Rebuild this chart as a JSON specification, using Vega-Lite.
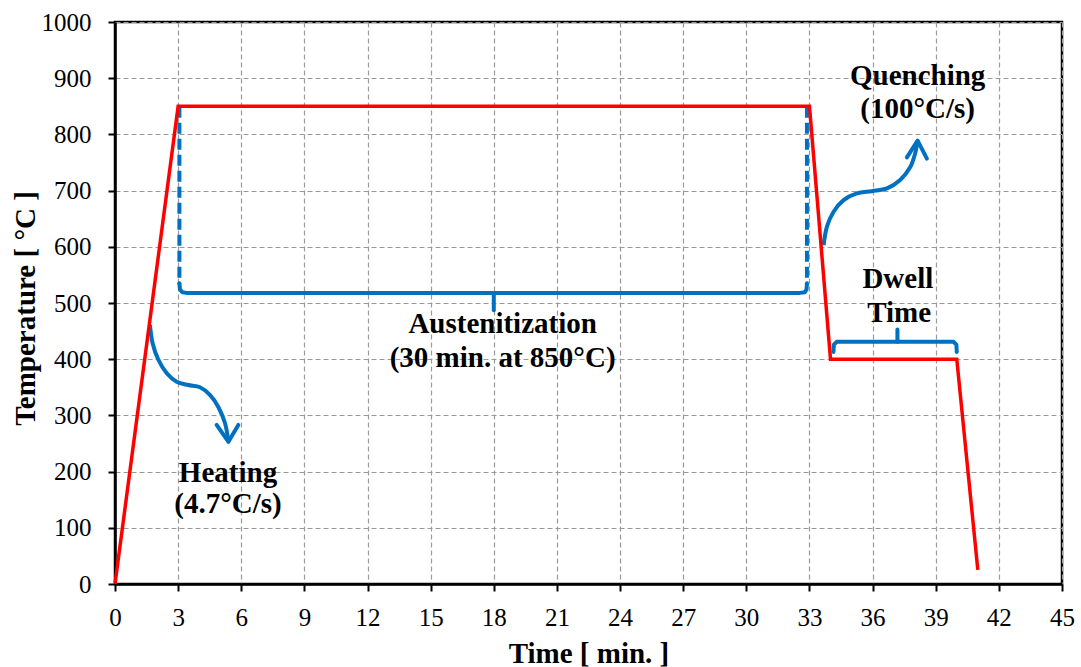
{
  "$schema": "https://vega.github.io/schema/vega-lite/v6.json",
  "width": 947,
  "height": 562,
  "autosize": {"type": "none"},
  "padding": {"left": 115, "top": 22, "right": 19, "bottom": 83},
  "background": "white",
  "config": {
    "font": "Liberation Serif",
    "view": {"stroke": "black", "strokeWidth": 2.5},
    "axis": {
      "domainColor": "black",
      "domainWidth": 2.5,
      "tickColor": "black",
      "tickWidth": 2,
      "tickSize": 7,
      "labelFont": "Liberation Serif",
      "labelFontSize": 25,
      "labelColor": "black",
      "titleFont": "Liberation Serif",
      "titleFontWeight": "bold",
      "titleFontSize": 29,
      "titleColor": "black",
      "gridColor": "#9a9a9a",
      "gridDash": [5, 3],
      "gridWidth": 1.2
    }
  },
  "datasets": {
    "lines": [
      {"part": "profile", "series": "profile", "ord": 1, "t": 0, "temp": 0},
      {"part": "profile", "series": "profile", "ord": 2, "t": 3, "temp": 850},
      {"part": "profile", "series": "profile", "ord": 3, "t": 33, "temp": 850},
      {"part": "profile", "series": "profile", "ord": 4, "t": 34, "temp": 400},
      {"part": "profile", "series": "profile", "ord": 5, "t": 40, "temp": 400},
      {"part": "profile", "series": "profile", "ord": 6, "t": 41, "temp": 25},

      {"part": "guide", "series": "guideL", "ord": 1, "t": 3.06, "temp": 849},
      {"part": "guide", "series": "guideL", "ord": 2, "t": 3.06, "temp": 533},
      {"part": "guide", "series": "guideR", "ord": 1, "t": 32.88, "temp": 849},
      {"part": "guide", "series": "guideR", "ord": 2, "t": 32.88, "temp": 533},

      {"part": "brace", "series": "braceA", "ord": 1, "t": 3.06, "temp": 535},
      {"part": "brace", "series": "braceA", "ord": 2, "t": 3.09, "temp": 524},
      {"part": "brace", "series": "braceA", "ord": 3, "t": 3.2, "temp": 519},
      {"part": "brace", "series": "braceA", "ord": 4, "t": 3.4, "temp": 518},
      {"part": "brace", "series": "braceA", "ord": 5, "t": 32.55, "temp": 518},
      {"part": "brace", "series": "braceA", "ord": 6, "t": 32.78, "temp": 519},
      {"part": "brace", "series": "braceA", "ord": 7, "t": 32.86, "temp": 524},
      {"part": "brace", "series": "braceA", "ord": 8, "t": 32.88, "temp": 535},
      {"part": "brace", "series": "tickA", "ord": 1, "t": 18, "temp": 518},
      {"part": "brace", "series": "tickA", "ord": 2, "t": 18, "temp": 487},

      {"part": "brace", "series": "braceD", "ord": 1, "t": 34.14, "temp": 413},
      {"part": "brace", "series": "braceD", "ord": 2, "t": 34.16, "temp": 426},
      {"part": "brace", "series": "braceD", "ord": 3, "t": 34.3, "temp": 431},
      {"part": "brace", "series": "braceD", "ord": 4, "t": 39.85, "temp": 431},
      {"part": "brace", "series": "braceD", "ord": 5, "t": 39.98, "temp": 426},
      {"part": "brace", "series": "braceD", "ord": 6, "t": 40.0, "temp": 413},
      {"part": "brace", "series": "tickD", "ord": 1, "t": 37.18, "temp": 431},
      {"part": "brace", "series": "tickD", "ord": 2, "t": 37.18, "temp": 453},

      {"part": "head", "series": "headH", "ord": 1, "t": 4.83, "temp": 283},
      {"part": "head", "series": "headH", "ord": 2, "t": 5.39, "temp": 253},
      {"part": "head", "series": "headH", "ord": 3, "t": 5.86, "temp": 283},
      {"part": "head", "series": "headQ", "ord": 1, "t": 37.63, "temp": 759},
      {"part": "head", "series": "headQ", "ord": 2, "t": 38.14, "temp": 789},
      {"part": "head", "series": "headQ", "ord": 3, "t": 38.58, "temp": 757},

      {"part": "curve", "series": "curveH", "ord": 1, "t": 1.66, "temp": 461},
      {"part": "curve", "series": "curveH", "ord": 2, "t": 1.79, "temp": 428},
      {"part": "curve", "series": "curveH", "ord": 3, "t": 2.06, "temp": 399},
      {"part": "curve", "series": "curveH", "ord": 4, "t": 2.46, "temp": 375},
      {"part": "curve", "series": "curveH", "ord": 5, "t": 2.93, "temp": 360},
      {"part": "curve", "series": "curveH", "ord": 6, "t": 3.48, "temp": 354},
      {"part": "curve", "series": "curveH", "ord": 7, "t": 4.04, "temp": 350},
      {"part": "curve", "series": "curveH", "ord": 8, "t": 4.52, "temp": 336},
      {"part": "curve", "series": "curveH", "ord": 9, "t": 4.91, "temp": 315},
      {"part": "curve", "series": "curveH", "ord": 10, "t": 5.23, "temp": 286},
      {"part": "curve", "series": "curveH", "ord": 11, "t": 5.39, "temp": 253},

      {"part": "curve", "series": "curveQ", "ord": 1, "t": 33.67, "temp": 603},
      {"part": "curve", "series": "curveQ", "ord": 2, "t": 33.83, "temp": 636},
      {"part": "curve", "series": "curveQ", "ord": 3, "t": 34.14, "temp": 662},
      {"part": "curve", "series": "curveQ", "ord": 4, "t": 34.62, "temp": 683},
      {"part": "curve", "series": "curveQ", "ord": 5, "t": 35.25, "temp": 695},
      {"part": "curve", "series": "curveQ", "ord": 6, "t": 35.96, "temp": 699},
      {"part": "curve", "series": "curveQ", "ord": 7, "t": 36.68, "temp": 704},
      {"part": "curve", "series": "curveQ", "ord": 8, "t": 37.31, "temp": 719},
      {"part": "curve", "series": "curveQ", "ord": 9, "t": 37.79, "temp": 742},
      {"part": "curve", "series": "curveQ", "ord": 10, "t": 38.02, "temp": 766},
      {"part": "curve", "series": "curveQ", "ord": 11, "t": 38.14, "temp": 789}
    ],
    "labels": [
      {"text": "Heating", "t": 5.37, "temp": 182},
      {"text": "(4.7°C/s)", "t": 5.37, "temp": 126},
      {"text": "Austenitization", "t": 18.42, "temp": 447},
      {"text": "(30 min. at 850°C)", "t": 18.42, "temp": 386},
      {"text": "Quenching", "t": 38.14, "temp": 888},
      {"text": "(100°C/s)", "t": 38.14, "temp": 829},
      {"text": "Dwell", "t": 37.2, "temp": 527},
      {"text": "Time", "t": 37.26, "temp": 467}
    ]
  },
  "encoding": {
    "x": {
      "field": "t", "type": "quantitative",
      "scale": {"domain": [0, 45], "nice": false, "zero": false},
      "axis": {
        "values": [0, 3, 6, 9, 12, 15, 18, 21, 24, 27, 30, 33, 36, 39, 42, 45],
        "title": "Time [ min. ]",
        "format": "d",
        "labelBaseline": "alphabetic",
        "labelPadding": 34,
        "labelFlush": false,
        "titleY": 78,
        "titleBaseline": "alphabetic"
      }
    },
    "y": {
      "field": "temp", "type": "quantitative",
      "scale": {"domain": [0, 1000], "nice": false},
      "axis": {
        "values": [0, 100, 200, 300, 400, 500, 600, 700, 800, 900, 1000],
        "title": "Temperature [ °C ]",
        "format": "d",
        "labelPadding": 17,
        "labelFlush": false,
        "titleX": -90,
        "titleY": 286,
        "titleAngle": -90,
        "titleAlign": "center",
        "titleBaseline": "middle"
      }
    }
  },
  "layer": [
    {
      "data": {"name": "lines"},
      "transform": [{"filter": "datum.part === 'guide'"}],
      "mark": {"type": "line", "color": "#0070C0", "strokeWidth": 4, "strokeDash": [11, 5]},
      "encoding": {"detail": {"field": "series"}, "order": {"field": "ord", "type": "quantitative"}}
    },
    {
      "data": {"name": "lines"},
      "transform": [{"filter": "datum.part === 'brace' || datum.part === 'head'"}],
      "mark": {"type": "line", "color": "#0070C0", "strokeWidth": 4, "strokeCap": "round", "strokeJoin": "round"},
      "encoding": {"detail": {"field": "series"}, "order": {"field": "ord", "type": "quantitative"}}
    },
    {
      "data": {"name": "lines"},
      "transform": [{"filter": "datum.part === 'curve'"}],
      "mark": {"type": "line", "color": "#0070C0", "strokeWidth": 4, "interpolate": "cardinal"},
      "encoding": {"detail": {"field": "series"}, "order": {"field": "ord", "type": "quantitative"}}
    },
    {
      "data": {"name": "lines"},
      "transform": [{"filter": "datum.part === 'profile'"}],
      "mark": {"type": "line", "color": "#FF0000", "strokeWidth": 3.5},
      "encoding": {"order": {"field": "ord", "type": "quantitative"}}
    },
    {
      "data": {"name": "labels"},
      "mark": {"type": "text", "font": "Liberation Serif", "fontWeight": "bold", "fontSize": 29, "color": "black", "align": "center", "baseline": "alphabetic"},
      "encoding": {"text": {"field": "text"}}
    }
  ]
}
